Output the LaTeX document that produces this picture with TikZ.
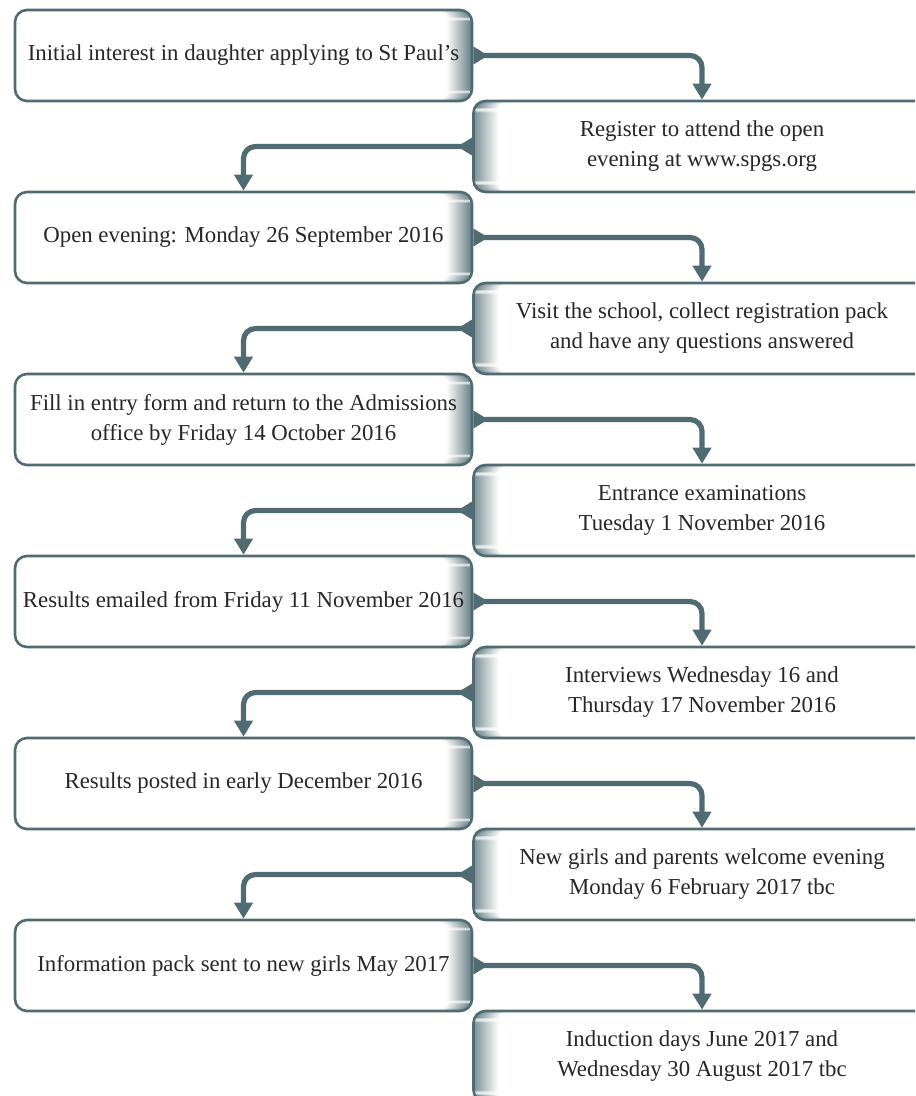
\documentclass[tikz,border=0pt]{standalone}
\usepackage{fontspec}
\setmainfont{Liberation Serif}
\definecolor{spgsSlate}{RGB}{80,107,114}
\definecolor{spgsText}{RGB}{40,38,40}
\usetikzlibrary{arrows.meta,positioning,calc}

\begin{document}
\begin{tikzpicture}[x=0.5pt, y=-0.5pt,
        box/.style={draw=spgsSlate, line width=1.3pt, rounded corners=6pt,
          fill=white, minimum width=228.5pt, minimum height=45.5pt,
          inner sep=0pt, align=center, text=spgsText,
          font=\fontsize{11.4}{15}\selectfont},
        % fade towards the side that the connectors leave from
        lbox/.style={box, path picture={
            \foreach \k in {0,...,25}{
              \pgfmathtruncatemacro\fadepct{\k*85/25}
              \fill[spgsSlate!\fadepct]
                ([xshift=-13pt+\k*0.5pt]path picture bounding box.north east)
                rectangle ([xshift=-12.4pt+\k*0.5pt]path picture bounding box.south east);}}},
        rbox/.style={box, path picture={
            \foreach \k in {0,...,25}{
              \pgfmathtruncatemacro\fadepct{\k*85/25}
              \fill[spgsSlate!\fadepct]
                ([xshift=13pt-\k*0.5pt]path picture bounding box.north west)
                rectangle ([xshift=12.4pt-\k*0.5pt]path picture bounding box.south west);}}},
        flow/.style={draw=spgsSlate, line width=2.6pt, rounded corners=6pt,
          {Triangle[reversed, width=8.5pt, length=7.5pt]}-{Triangle[width=9pt, length=8pt]}},
      ]
        \clip (0,0) rectangle (915,1096);

        \node[lbox] (initial) at (243.5, 55.5) {Initial interest in daughter applying to St Paul's};
        \node[rbox] (register) at (702, 146.5) {Register to attend the open\\evening at www.spgs.org};
        \node[lbox] (openeve) at (243.5, 237.5) {Open evening: Monday 26 September 2016};
        \node[rbox] (visit) at (702, 328.5) {Visit the school, collect registration pack\\and have any questions answered};
        \node[lbox] (entryform) at (243.5, 419.5) {Fill in entry form and return to the Admissions\\office by Friday 14 October 2016};
        \node[rbox] (exams) at (702, 510.5) {Entrance examinations\\Tuesday 1 November 2016};
        \node[lbox] (emailed) at (243.5, 601.5) {Results emailed from Friday 11 November 2016};
        \node[rbox] (interviews) at (702, 692.5) {Interviews Wednesday 16 and\\Thursday 17 November 2016};
        \node[lbox] (posted) at (243.5, 783.5) {Results posted in early December 2016};
        \node[rbox] (welcome) at (702, 874.5) {New girls and parents welcome evening\\Monday 6 February 2017 tbc};
        \node[lbox] (infopack) at (243.5, 965.5) {Information pack sent to new girls May 2017};
        \node[rbox] (induction) at (702, 1056.5) {Induction days June 2017 and\\Wednesday 30 August 2017 tbc};

        \draw[flow] (initial.east) -| (register.north);
        \draw[flow] (register.west) -| (openeve.north);
        \draw[flow] (openeve.east) -| (visit.north);
        \draw[flow] (visit.west) -| (entryform.north);
        \draw[flow] (entryform.east) -| (exams.north);
        \draw[flow] (exams.west) -| (emailed.north);
        \draw[flow] (emailed.east) -| (interviews.north);
        \draw[flow] (interviews.west) -| (posted.north);
        \draw[flow] (posted.east) -| (welcome.north);
        \draw[flow] (welcome.west) -| (infopack.north);
        \draw[flow] (infopack.east) -| (induction.north);
      \end{tikzpicture}
\end{document}
